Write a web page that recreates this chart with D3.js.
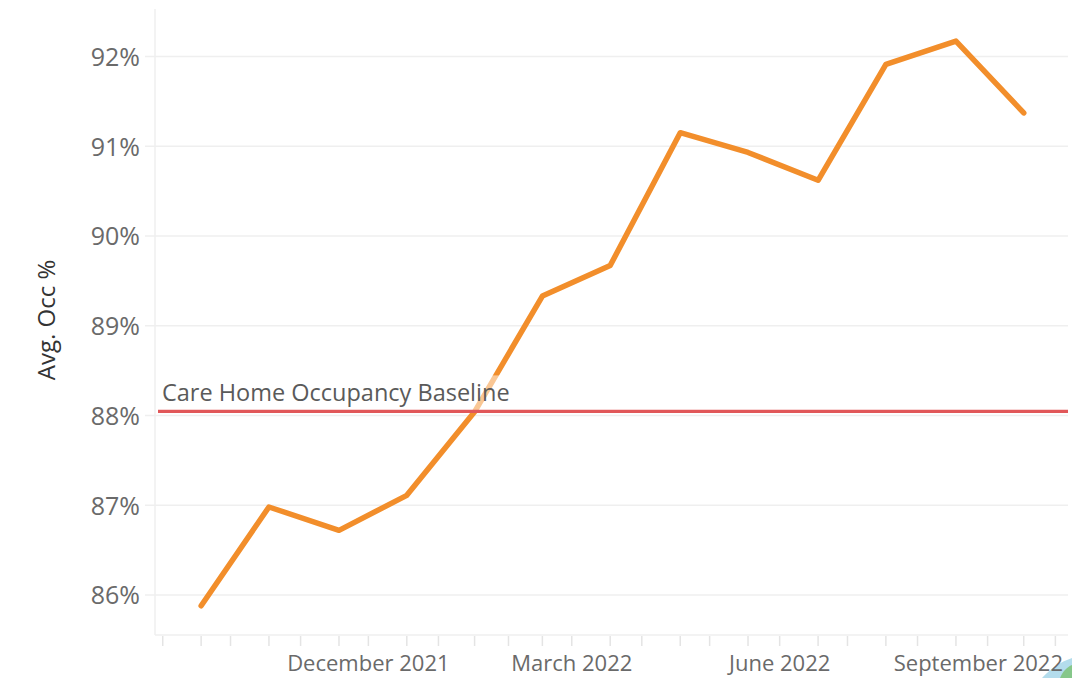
<!DOCTYPE html>
<html>
<head>
<meta charset="utf-8">
<script src="https://cdn.jsdelivr.net/npm/d3@7"></script>
<style>
  html, body { margin: 0; padding: 0; background: #fff; }
  svg { display: block; font-family: "Open Sans", sans-serif; }
</style>
</head>
<body>
<svg id="chart" width="1072" height="678"></svg>
<script>
// ---- data ----
const dates = ["2021-09-18","2021-10-18","2021-11-18","2021-12-18","2022-01-17","2022-02-16",
               "2022-03-18","2022-04-18","2022-05-18","2022-06-18","2022-07-18","2022-08-18","2022-09-17"];
const occupancy = [85.88, 86.98, 86.72, 87.11, 88.04, 89.33, 89.67, 91.15, 90.93, 90.62, 91.91, 92.17, 91.37];
const baselineValue = 88.045;
const baselineLabel = "Care Home Occupancy Baseline";
const yTicks = [86, 87, 88, 89, 90, 91, 92];
const xLabelDates = ["2021-12-01","2022-03-01","2022-06-01","2022-09-01"];
const xLabels = ["December 2021","March 2022","June 2022","September 2022"];
const monthStarts = ["2021-09-01","2021-10-01","2021-11-01","2021-12-01","2022-01-01","2022-02-01","2022-03-01",
                     "2022-04-01","2022-05-01","2022-06-01","2022-07-01","2022-08-01","2022-09-01","2022-10-01"];
const yTitle = "Avg. Occ %";

(function () {
const parse = d3.timeParse("%Y-%m-%d");
const data = dates.map((d, i) => ({date: parse(d), value: occupancy[i]}));

const svg = d3.select("#chart");
const pLeft = 155, pRight = 1068, pTop = 9, pBottom = 635;

const x = d3.scaleTime()
  .domain([new Date(2021, 7, 28, 14), new Date(2022, 9, 6, 14)])
  .range([pLeft, pRight]);
const y = d3.scaleLinear()
  .domain([85.554, 92.528])
  .range([pBottom, pTop]);

// small logo fragment bottom-right (behind text)
svg.append("path")
  .attr("d", "M1042,678 C1050,669 1060,662 1072,658 L1072,678 Z")
  .attr("fill", "#b3dcec");
svg.append("path")
  .attr("d", "M1060,678 C1063,671 1067,667 1072,665 L1072,678 Z")
  .attr("fill", "#86c78a");

// gridlines
svg.append("g").selectAll("line").data(yTicks).join("line")
  .attr("x1", pLeft - 10).attr("x2", pRight)
  .attr("y1", d => y(d)).attr("y2", d => y(d))
  .attr("stroke", "#efefef").attr("stroke-width", 1.5);

// vertical axis line and bottom border
svg.append("line").attr("x1", pLeft).attr("x2", pLeft).attr("y1", pTop).attr("y2", pBottom)
  .attr("stroke", "#efefef").attr("stroke-width", 1.5);
svg.append("line").attr("x1", pLeft).attr("x2", pRight).attr("y1", pBottom).attr("y2", pBottom)
  .attr("stroke", "#efefef").attr("stroke-width", 1.5);

// x ticks (month starts + mid-month data dates)
const tickDates = monthStarts.map(parse).concat(data.map(d => d.date));
svg.append("g").selectAll("line").data(tickDates).join("line")
  .attr("x1", d => x(d)).attr("x2", d => x(d))
  .attr("y1", pBottom + 1).attr("y2", pBottom + 11)
  .attr("stroke", "#e4e4e4").attr("stroke-width", 1.5);

// x labels (clamped so the last one stays inside the plot's right edge)
svg.append("g").selectAll("text").data(xLabelDates).join("text")
  .attr("x", d => x(parse(d)))
  .attr("y", 671)
  .attr("text-anchor", "middle")
  .attr("font-size", 22)
  .attr("fill", "#6a6a6a")
  .text((d, i) => xLabels[i])
  .each(function () {
    const b = this.getBBox();
    const maxRight = pRight - 5;
    if (b.x + b.width > maxRight) {
      d3.select(this).attr("x", +d3.select(this).attr("x") - (b.x + b.width - maxRight));
    }
  });

// y labels
svg.append("g").selectAll("text").data(yTicks).join("text")
  .attr("x", 140)
  .attr("y", d => y(d) + 9.5)
  .attr("text-anchor", "end")
  .attr("font-size", 25)
  .attr("fill", "#6a6a6a")
  .text(d => d + "%");

// y title
svg.append("text")
  .attr("transform", "translate(55,320) rotate(-90)")
  .attr("text-anchor", "middle")
  .attr("font-size", 24)
  .attr("fill", "#333")
  .text(yTitle);

// data line
const line = d3.line().x(d => x(d.date)).y(d => y(d.value));
svg.append("path")
  .datum(data)
  .attr("d", line)
  .attr("fill", "none")
  .attr("stroke", "#F28E2B")
  .attr("stroke-width", 5.5)
  .attr("stroke-linejoin", "round")
  .attr("stroke-linecap", "round");

// baseline label with translucent background
const by = y(baselineValue);
const lblG = svg.append("g");
const bgRect = lblG.append("rect").attr("fill", "#fff").attr("fill-opacity", 0.5);
const lbl = lblG.append("text")
  .attr("x", 162)
  .attr("y", by - 10)
  .attr("font-size", 23.5)
  .attr("fill", "#5a5a5a")
  .text(baselineLabel);
const bb = lbl.node().getBBox();
bgRect.attr("x", bb.x - 3).attr("y", by - 36).attr("width", bb.width + 6).attr("height", 35);

// baseline
svg.append("line")
  .attr("x1", pLeft + 3).attr("x2", pRight)
  .attr("y1", by).attr("y2", by)
  .attr("stroke", "#E15759").attr("stroke-width", 3.2);
})();
</script>
</body>
</html>
